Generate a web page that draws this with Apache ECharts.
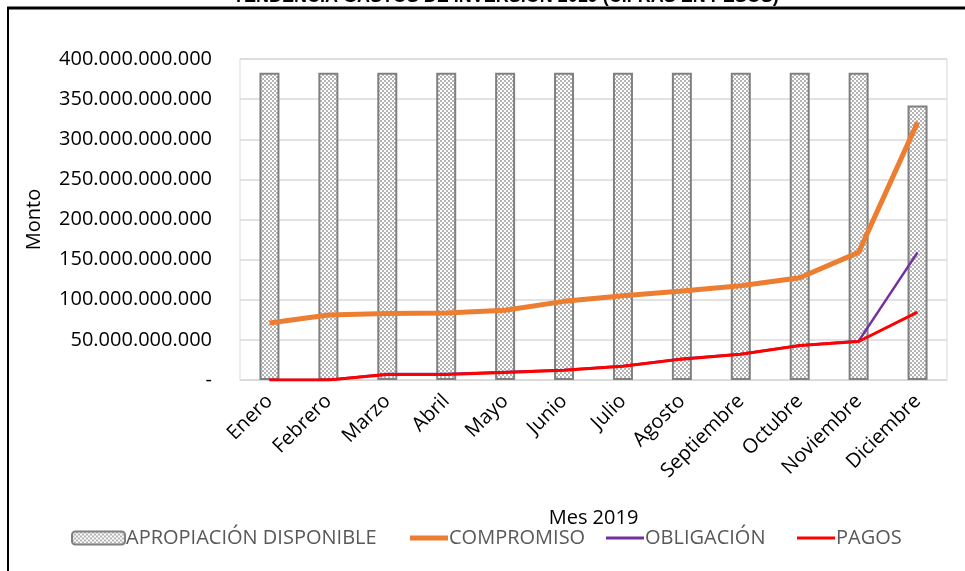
<!DOCTYPE html>
<html>
<head>
<meta charset="utf-8">
<script src="https://cdn.jsdelivr.net/npm/echarts@6/dist/echarts.min.js"></script>
<style>
  html, body { margin: 0; padding: 0; background: #fff; }
  #chart { width: 965px; height: 571px; }
</style>
</head>
<body>
<div id="chart"></div>
<script>
const meses = ["Enero", "Febrero", "Marzo", "Abril", "Mayo", "Junio", "Julio",
  "Agosto", "Septiembre", "Octubre", "Noviembre", "Diciembre"];

// valores en miles de millones de pesos
const apropiacion = [383, 383, 383, 383, 383, 383, 383, 383, 383, 383, 383, 342];
const compromiso = [71, 81, 83, 83.5, 87, 98, 105, 111, 117.5, 127.5, 159, 321];
const obligacion = [0, 0, 7.5, 7.5, 10, 12.5, 17.5, 26.5, 32.5, 43, 48.5, 159];
const pagos = [0, 0, 7, 7, 9.5, 12, 17, 26, 32, 43, 48, 84.5];

const yTicks = [0, 50, 100, 150, 200, 250, 300, 350, 400];
const BIL = 1e9;

// checker pattern for the bars
const pat = document.createElement("canvas");
pat.width = 4; pat.height = 4;
const pc = pat.getContext("2d");
pc.fillStyle = "#ffffff"; pc.fillRect(0, 0, 4, 4);
pc.fillStyle = "#b4b4b4";
pc.fillRect(0, 0, 2, 2); pc.fillRect(2, 2, 2, 2);

function fmt(v) {
  if (v === 0) return "-";
  return Math.round(v).toString().replace(/\B(?=(\d{3})+(?!\d))/g, ".");
}

const chart = echarts.init(document.getElementById("chart"));
const FONT = "'Open Sans', 'DejaVu Sans', sans-serif";
const legendText = { fontSize: 20, color: "#595959", fontFamily: FONT, padding: [0, 0, 0, -4] };

function lineLegend(name, left, h) {
  return {
    data: [{ name: name, icon: "rect" }],
    left: left, top: 523,
    itemWidth: 38, itemHeight: h,
    textStyle: legendText,
  };
}

chart.setOption({
  animation: false,
  title: {
    text: "TENDENCIA GASTOS DE INVERSIÓN 2019 (CIFRAS EN PESOS)",
    left: 228,
    top: -17,
    textStyle: { fontSize: 18, fontWeight: "bold", color: "#000", fontFamily: "Liberation Sans" },
  },
  graphic: [
    { type: "line", shape: { x1: 7, y1: 8, x2: 965, y2: 8 }, style: { stroke: "#000", lineWidth: 3 } },
    { type: "line", shape: { x1: 8, y1: 7, x2: 8, y2: 571 }, style: { stroke: "#000", lineWidth: 2 } },
  ],
  legend: [
    {
      data: ["APROPIACIÓN DISPONIBLE"],
      left: 66, top: 523,
      itemWidth: 53, itemHeight: 13,
      textStyle: legendText,
    },
    lineLegend("COMPROMISO", 405, 5),
    lineLegend("OBLIGACIÓN", 601, 3),
    lineLegend("PAGOS", 792, 3),
  ],
  grid: {
    left: 240, right: 18, top: 59, bottom: 191,
    show: true, borderColor: "#d9d9d9", borderWidth: 1,
  },
  xAxis: {
    type: "category",
    data: meses,
    name: "Mes 2019",
    nameLocation: "middle",
    nameGap: 128,
    nameTextStyle: { fontSize: 20, color: "#000", fontFamily: FONT },
    axisLine: { lineStyle: { color: "#d9d9d9" } },
    axisTick: { show: false },
    axisLabel: { rotate: 45, fontSize: 20, color: "#000", fontFamily: FONT, margin: 18, interval: 0 },
  },
  yAxis: {
    type: "value",
    min: 0, max: 400 * BIL, interval: 50 * BIL,
    name: "Monto",
    nameLocation: "middle",
    nameGap: 196,
    nameTextStyle: { fontSize: 20, color: "#000", fontFamily: FONT },
    axisLine: { show: false },
    axisTick: { show: false },
    splitLine: { lineStyle: { color: "#d9d9d9", width: 1.5 } },
    axisLabel: {
      fontSize: 20, color: "#000", fontFamily: FONT, margin: 28,
      formatter: (v) => fmt(v),
      customValues: yTicks.map((t) => t * BIL),
    },
  },
  series: [
    {
      name: "APROPIACIÓN DISPONIBLE",
      type: "bar",
      barWidth: 20,
      data: apropiacion.map((v) => v * BIL),
      itemStyle: { color: { image: pat, repeat: "repeat" }, borderColor: "#808080", borderWidth: 2 },
    },
    {
      name: "COMPROMISO",
      type: "line",
      data: compromiso.map((v) => v * BIL),
      symbol: "none",
      lineStyle: { color: "#ED7D31", width: 5 },
      itemStyle: { color: "#ED7D31" },
    },
    {
      name: "OBLIGACIÓN",
      type: "line",
      data: obligacion.map((v) => v * BIL),
      symbol: "none",
      lineStyle: { color: "#7030A0", width: 2.5 },
      itemStyle: { color: "#7030A0" },
    },
    {
      name: "PAGOS",
      type: "line",
      data: pagos.map((v) => v * BIL),
      symbol: "none",
      lineStyle: { color: "#FF0000", width: 3 },
      itemStyle: { color: "#FF0000" },
    },
  ],
});
</script>
</body>
</html>
